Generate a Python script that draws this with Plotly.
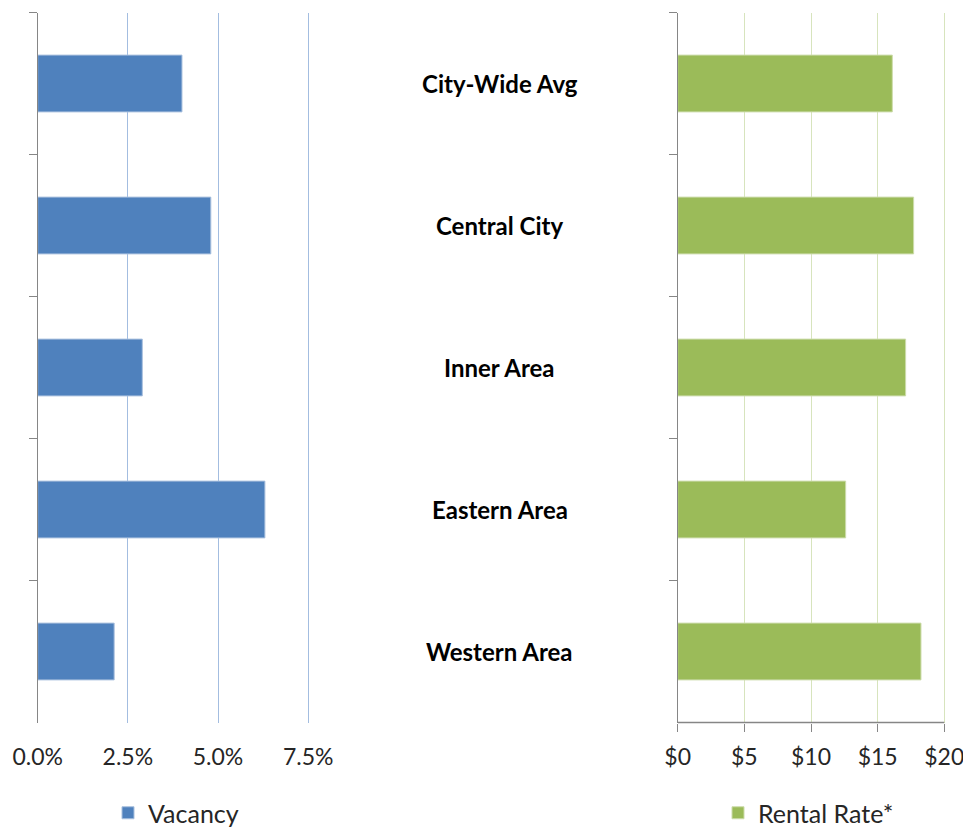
import plotly.graph_objects as go

# The page places the plot div 8px in from the top-left corner (default body margin),
# so the figure is 8px smaller and all target pixel positions are shifted by 8.
OFF = 8
W, H = 971 - OFF, 827 - OFF

categories = ["City-Wide Avg", "Central City", "Inner Area", "Eastern Area", "Western Area"]
vacancy = [0.040, 0.048, 0.029, 0.063, 0.0212]
rental_rate = [16.1, 17.7, 17.1, 12.6, 18.25]

vac_ticks = [0, 0.025, 0.05, 0.075]
vac_ticktext = ["0.0%", "2.5%", "5.0%", "7.5%"]
rent_ticks = [0, 5, 10, 15, 20]
rent_ticktext = ["$0", "$5", "$10", "$15", "$20"]

FONT = "Lato"
TXT = "#262626"
AXIS = "#868686"

def px(x):
    return (x - OFF) / W

def py(y):
    return 1 - (y - OFF) / H

fig = go.Figure()
fig.add_trace(go.Bar(
    y=categories, x=vacancy, orientation="h", name="Vacancy",
    marker=dict(color="#4f81bd", line=dict(color="#a9c0de", width=1)),
    width=0.4, xaxis="x", yaxis="y", legend="legend", showlegend=True,
))
fig.add_trace(go.Bar(
    y=categories, x=rental_rate, orientation="h", name="Rental Rate*",
    marker=dict(color="#9bbb59", line=dict(color="#cddcab", width=1)),
    width=0.4, xaxis="x2", yaxis="y2", legend="legend2", showlegend=True,
))

ydom = [py(722.5), py(12.5)]

common_y = dict(
    type="category", categoryorder="array", categoryarray=categories,
    autorange="reversed", showticklabels=False, showgrid=False,
    showline=True, linecolor=AXIS, linewidth=1.3,
    ticks="outside", tickson="boundaries", ticklen=8, tickcolor=AXIS, tickwidth=1.3,
    domain=ydom, zeroline=False, automargin=False,
)

vac_max = 0.079
vac_px_per_unit = (308.2 - 37.7) / 0.075
rent_max = 20.4
rent_px_per_unit = (944.3 - 677.7) / 20

fig.update_layout(
    width=W, height=H,
    margin=dict(l=0, r=0, t=0, b=0, autoexpand=False),
    paper_bgcolor="white", plot_bgcolor="white",
    font=dict(family=FONT, color=TXT, size=23),
    barmode="overlay",
    showlegend=True,
    xaxis=dict(
        domain=[px(37.7), px(37.7 + vac_max * vac_px_per_unit)], range=[0, vac_max], anchor="y",
        tickvals=vac_ticks, ticktext=vac_ticktext,
        showgrid=True, gridcolor="#a3bde0", gridwidth=1.3,
        showline=False, zeroline=False, automargin=False,
        ticks="outside", ticklen=8, tickcolor="rgba(0,0,0,0)",
        tickfont=dict(size=23, color=TXT, family=FONT),
        ticklabelstandoff=6,
    ),
    yaxis=dict(anchor="x", **common_y),
    xaxis2=dict(
        domain=[px(677.7), px(677.7 + rent_max * rent_px_per_unit)], range=[0, rent_max], anchor="y2",
        tickvals=rent_ticks, ticktext=rent_ticktext,
        showgrid=True, gridcolor="#d7e4bd", gridwidth=1.3,
        showline=False, zeroline=False, automargin=False,
        ticks="outside", ticklen=8, tickcolor=AXIS, tickwidth=1.3,
        tickfont=dict(size=23, color=TXT, family=FONT),
        ticklabelstandoff=6,
    ),
    yaxis2=dict(anchor="x2", **common_y),
    legend=dict(
        x=px(108), y=py(813), xanchor="left", yanchor="middle",
        font=dict(size=25, color=TXT, family=FONT), bgcolor="rgba(0,0,0,0)",
        orientation="h",
    ),
    legend2=dict(
        x=px(718), y=py(813), xanchor="left", yanchor="middle",
        font=dict(size=25, color=TXT, family=FONT), bgcolor="rgba(0,0,0,0)",
        orientation="h",
    ),
)

# bottom axis line of the right panel, spanning exactly $0..$20
fig.add_shape(
    type="line", xref="x2", yref="paper",
    x0=rent_ticks[0], x1=rent_ticks[-1], y0=ydom[0], y1=ydom[0],
    line=dict(color=AXIS, width=1.3), layer="above",
)

for c in categories:
    fig.add_annotation(
        x=px(500), xref="paper", y=c, yref="y", showarrow=False,
        text=c, font=dict(size=24, color="#000000", family=FONT, weight="bold"),
        xanchor="center", yanchor="middle",
    )

fig.write_html("out.html")
